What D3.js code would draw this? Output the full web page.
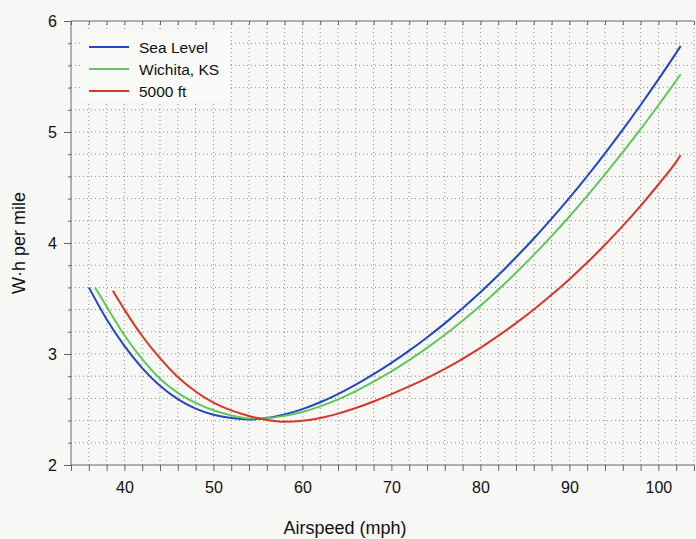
<!DOCTYPE html>
<html>
<head>
<meta charset="utf-8">
<script src="https://cdn.jsdelivr.net/npm/d3@7"></script>
<style>
  html, body { margin: 0; padding: 0; background: #f7f7f5; }
  svg { display: block; font-family: "Liberation Sans", Arial, sans-serif; }
  .grid line { stroke: #8f8f8f; stroke-width: 1; stroke-dasharray: 1 3; }
  .axis path, .axis line { stroke: #666; }
  .axis text { fill: #111; font-size: 16px; }
  .curve { fill: none; stroke-width: 2; }
</style>
</head>
<body>
<div id="chart"></div>
<script>
// Airspeed (mph) vs W·h per mile
const seaLevel = [
  [36, 3.60], [38, 3.313], [40, 3.073], [42, 2.873], [44, 2.713], [46, 2.593],
  [48, 2.508], [50, 2.453], [52, 2.423], [54, 2.411], [56, 2.423], [58, 2.455],
  [60, 2.503], [62, 2.565], [64, 2.639], [66, 2.724], [68, 2.818], [70, 2.92],
  [72, 3.03], [74, 3.149], [76, 3.276], [78, 3.412], [80, 3.556], [82, 3.709],
  [84, 3.871], [86, 4.041], [88, 4.22], [90, 4.407], [92, 4.603], [94, 4.808],
  [96, 5.021], [98, 5.243], [100, 5.474], [102, 5.713], [102.5, 5.775]
];
const wichita = [
  [36.7, 3.60], [38, 3.428], [40, 3.169], [42, 2.953], [44, 2.777], [46, 2.650],
  [48, 2.560], [50, 2.493], [52, 2.447], [54, 2.420], [56, 2.422], [58, 2.443],
  [60, 2.478], [62, 2.528], [64, 2.591], [66, 2.666], [68, 2.751], [70, 2.844],
  [72, 2.945], [74, 3.055], [76, 3.173], [78, 3.30], [80, 3.435], [82, 3.579],
  [84, 3.732], [86, 3.893], [88, 4.062], [90, 4.239], [92, 4.425], [94, 4.618],
  [96, 4.818], [98, 5.025], [100, 5.241], [102, 5.463], [102.5, 5.52]
];
const ft5000 = [
  [38.7, 3.57], [40, 3.40], [42, 3.162], [44, 2.962], [46, 2.792], [48, 2.662],
  [50, 2.562], [52, 2.492], [54, 2.442], [56, 2.406], [58, 2.39], [60, 2.398],
  [62, 2.423], [64, 2.463], [66, 2.513], [68, 2.572], [70, 2.638], [72, 2.708],
  [74, 2.783], [76, 2.866], [78, 2.957], [80, 3.056], [82, 3.163], [84, 3.278],
  [86, 3.401], [88, 3.533], [90, 3.674], [92, 3.824], [94, 3.984], [96, 4.154],
  [98, 4.335], [100, 4.527], [102, 4.731], [102.5, 4.79]
];

const seriesNames = ['Sea Level', 'Wichita, KS', '5000 ft'];
const seriesColors = ['#2446c4', '#5ec85a', '#d8362a'];
const xTicks = [40, 50, 60, 70, 80, 90, 100];
const yTicks = [2, 3, 4, 5, 6];

const width = 696, height = 539;
const margin = {top: 21, right: 2, bottom: 74, left: 71};

const svg = d3.select('#chart').append('svg')
  .attr('width', width)
  .attr('height', height);

const xScale = d3.scaleLinear().domain([34, 104]).range([margin.left, width - margin.right]);
const yScale = d3.scaleLinear().domain([2, 6]).range([height - margin.bottom, margin.top]);

const xMinor = d3.range(34, 104.1, 2);
const yMinor = d3.range(2, 6.01, 0.2);

// dotted grid
const grid = svg.append('g').attr('class', 'grid');
grid.selectAll('.gx').data(xMinor.slice(1)).join('line')
  .attr('x1', d => xScale(d)).attr('x2', d => xScale(d))
  .attr('y1', yScale(2)).attr('y2', yScale(6));
grid.selectAll('.gy').data(yMinor.slice(1, -1)).join('line')
  .attr('x1', xScale(34)).attr('x2', xScale(104))
  .attr('y1', d => yScale(d)).attr('y2', d => yScale(d));

// axes
const xAxis = svg.append('g')
  .attr('class', 'axis')
  .attr('transform', `translate(0, ${yScale(2)})`)
  .call(d3.axisBottom(xScale).tickValues(xMinor).tickSize(6).tickFormat(''));
xAxis.select('.domain').attr('d', `M${xScale(34)},0H${xScale(104)}`);

svg.append('g')
  .attr('class', 'axis')
  .attr('transform', `translate(0, ${yScale(2) + 11})`)
  .call(d3.axisBottom(xScale).tickValues(xTicks).tickSize(0).tickFormat(d3.format('d')))
  .call(g => g.select('.domain').remove())
  .selectAll('text').attr('dy', '0.9em');

const topAxis = svg.append('g')
  .attr('class', 'axis')
  .attr('transform', `translate(0, ${yScale(6)})`)
  .call(d3.axisBottom(xScale).tickValues(xMinor).tickSize(4).tickFormat(''));
topAxis.select('.domain').attr('d', `M${xScale(34)},0H${xScale(104)}`);

const yAxis = svg.append('g')
  .attr('class', 'axis')
  .attr('transform', `translate(${xScale(34)}, 0)`)
  .call(d3.axisLeft(yScale).tickValues(yMinor).tickSize(3).tickFormat(''));
yAxis.select('.domain').attr('d', `M0,${yScale(2)}V${yScale(6)}`);

svg.append('g')
  .attr('class', 'axis')
  .attr('transform', `translate(${xScale(34)}, 0)`)
  .call(d3.axisLeft(yScale).tickValues(yTicks).tickSize(7).tickPadding(7).tickFormat(d3.format('d')))
  .call(g => g.select('.domain').remove());

// curves
const line = d3.line()
  .x(d => xScale(d[0]))
  .y(d => yScale(d[1]))
  .curve(d3.curveMonotoneX);

[seaLevel, wichita, ft5000].forEach((s, i) => {
  svg.append('path')
    .datum(s)
    .attr('class', 'curve')
    .attr('stroke', seriesColors[i])
    .attr('d', line);
});

// legend
const legend = svg.append('g').attr('transform', 'translate(80, 32)');
legend.append('rect')
  .attr('width', 150).attr('height', 70)
  .attr('fill', '#fafaf9');
seriesNames.forEach((name, i) => {
  const y = 15 + i * 22;
  legend.append('line')
    .attr('x1', 9).attr('x2', 49).attr('y1', y).attr('y2', y)
    .attr('stroke', seriesColors[i]).attr('stroke-width', 2);
  legend.append('text')
    .attr('x', 59).attr('y', y + 5.5)
    .attr('font-size', 15.5).attr('fill', '#111')
    .text(name);
});

// axis titles
svg.append('text')
  .attr('x', 345).attr('y', 534)
  .attr('text-anchor', 'middle')
  .attr('font-size', 18).attr('fill', '#111')
  .text('Airspeed (mph)');

svg.append('text')
  .attr('transform', 'translate(25, 243) rotate(-90)')
  .attr('text-anchor', 'middle')
  .attr('font-size', 18).attr('fill', '#111')
  .text('W·h per mile');
</script>
</body>
</html>
